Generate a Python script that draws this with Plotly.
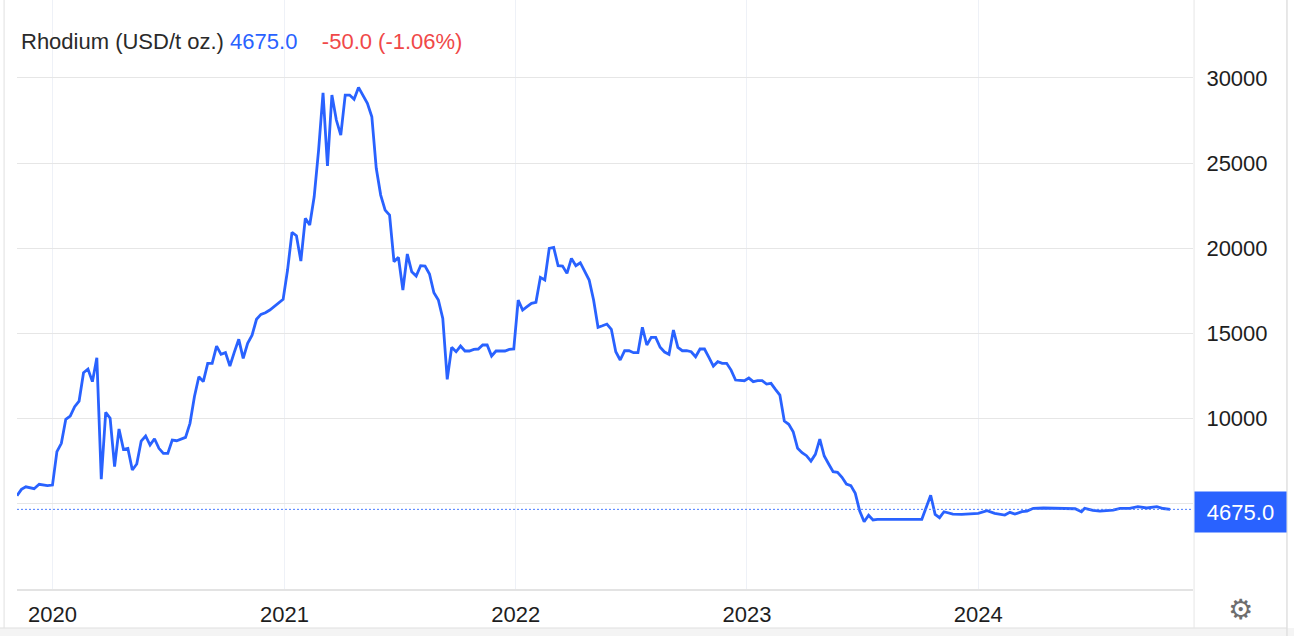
import plotly.graph_objects as go

# ---- data ----
dates = [
    "2019-11-06", "2019-11-13", "2019-11-20", "2019-12-03", "2019-12-11", "2019-12-24",
    "2020-01-01", "2020-01-08", "2020-01-15", "2020-01-22", "2020-01-29", "2020-02-05",
    "2020-02-12", "2020-02-19", "2020-02-26", "2020-03-04", "2020-03-11", "2020-03-18",
    "2020-03-25", "2020-04-01", "2020-04-08", "2020-04-15", "2020-04-22", "2020-04-29",
    "2020-05-06", "2020-05-13", "2020-05-20", "2020-05-27", "2020-06-03", "2020-06-10",
    "2020-06-17", "2020-06-24", "2020-07-01", "2020-07-08", "2020-07-15", "2020-07-22",
    "2020-07-29", "2020-08-05", "2020-08-12", "2020-08-19", "2020-08-26", "2020-09-02",
    "2020-09-09", "2020-09-16", "2020-09-23", "2020-09-30", "2020-10-07", "2020-10-14",
    "2020-10-21", "2020-10-28", "2020-11-04", "2020-11-11", "2020-11-18", "2020-11-25",
    "2020-12-02", "2020-12-09", "2020-12-16", "2020-12-23", "2020-12-30",
    "2021-01-06", "2021-01-13", "2021-01-20", "2021-01-27", "2021-02-03", "2021-02-10",
    "2021-02-17", "2021-02-24", "2021-03-03", "2021-03-10", "2021-03-17", "2021-03-24",
    "2021-03-31", "2021-04-07", "2021-04-14", "2021-04-21", "2021-04-28", "2021-05-05",
    "2021-05-12", "2021-05-19", "2021-05-26", "2021-06-02", "2021-06-09", "2021-06-16",
    "2021-06-23", "2021-06-30", "2021-07-07", "2021-07-14", "2021-07-21", "2021-07-28",
    "2021-08-04", "2021-08-11", "2021-08-18", "2021-08-25", "2021-09-01", "2021-09-08",
    "2021-09-15", "2021-09-22", "2021-09-29", "2021-10-06", "2021-10-13", "2021-10-20",
    "2021-10-27", "2021-11-03", "2021-11-10", "2021-11-17", "2021-11-24", "2021-12-01",
    "2021-12-08", "2021-12-15", "2021-12-22", "2021-12-29",
    "2022-01-05", "2022-01-12", "2022-01-19", "2022-01-26", "2022-02-02", "2022-02-09",
    "2022-02-16", "2022-02-23", "2022-03-02", "2022-03-09", "2022-03-16", "2022-03-23",
    "2022-03-30", "2022-04-06", "2022-04-13", "2022-04-20", "2022-04-27", "2022-05-04",
    "2022-05-11", "2022-05-18", "2022-05-25", "2022-06-01", "2022-06-08", "2022-06-15",
    "2022-06-22", "2022-06-29", "2022-07-06", "2022-07-13", "2022-07-20", "2022-07-27",
    "2022-08-03", "2022-08-10", "2022-08-17", "2022-08-24", "2022-08-31", "2022-09-07",
    "2022-09-14", "2022-09-21", "2022-09-28", "2022-10-05", "2022-10-12", "2022-10-19",
    "2022-10-26", "2022-11-02", "2022-11-09", "2022-11-16", "2022-11-23", "2022-11-30",
    "2022-12-07", "2022-12-14", "2022-12-21", "2022-12-28",
    "2023-01-04", "2023-01-11", "2023-01-18", "2023-01-25", "2023-02-01", "2023-02-08",
    "2023-02-15", "2023-02-22", "2023-03-01", "2023-03-08", "2023-03-15", "2023-03-22",
    "2023-03-29", "2023-04-05", "2023-04-12", "2023-04-19", "2023-04-26", "2023-05-03",
    "2023-05-10", "2023-05-17", "2023-05-24", "2023-05-31", "2023-06-07", "2023-06-14",
    "2023-06-21", "2023-06-28", "2023-07-05", "2023-07-12", "2023-07-19", "2023-07-26",
    "2023-10-04", "2023-10-18", "2023-10-25", "2023-11-01", "2023-11-08", "2023-11-15",
    "2023-11-22", "2023-12-06",
    "2024-01-01", "2024-01-15", "2024-01-27", "2024-02-12", "2024-02-20", "2024-02-28",
    "2024-03-10", "2024-03-18", "2024-03-28", "2024-04-13", "2024-05-09", "2024-06-02",
    "2024-06-12", "2024-06-17", "2024-06-30", "2024-07-11", "2024-08-01", "2024-08-12",
    "2024-08-27", "2024-09-09", "2024-09-23", "2024-10-09", "2024-10-19", "2024-10-30",
]

prices = [
    5475, 5850, 6000, 5885, 6145, 6065,
    6100, 8060, 8550, 9960, 10150, 10700,
    11030, 12690, 12910, 12170, 13570, 6440,
    10370, 10020, 7180, 9390, 8200, 8255,
    6985, 7335, 8685, 8980, 8450, 8820,
    8255, 7960, 7960, 8745, 8705, 8785,
    8900, 9725, 11285, 12460, 12170, 13245,
    13245, 14260, 13775, 13870, 13090, 13900,
    14655, 13540, 14420, 14900, 15830, 16120,
    16215, 16375, 16570, 16800, 17000,
    18720, 20930, 20735, 19250, 21755, 21360,
    23020, 25760, 29125, 24825, 28990, 27525,
    26645, 28990, 28990, 28740, 29440, 28990,
    28500, 27720, 24690, 23120, 22240, 21950,
    19210, 19465, 17550, 19660, 18620, 18370,
    18975, 18955, 18485, 17390, 16960, 15885,
    12305, 14185, 13925, 14260, 13970, 13970,
    14065, 14085, 14320, 14320, 13675, 13970,
    13970, 13970, 14065, 14085,
    16960, 16375, 16570, 16765, 16825, 18290,
    18135, 19995, 20050, 18975, 18955, 18525,
    19405, 18975, 19150, 18620, 18135, 16960,
    15360, 15450, 15550, 15240, 13925, 13440,
    13985, 13985, 13870, 13870, 15360, 14320,
    14770, 14770, 14185, 13910, 13775, 15200,
    14185, 13985, 13985, 13925, 13630, 14085,
    14085, 13595, 13085, 13340, 13245, 13245,
    12850, 12265, 12225, 12225,
    12380, 12170, 12225, 12225, 12030, 12070,
    11720, 11385, 9860, 9665, 9230, 8255,
    8000, 7825, 7510, 7905, 8800, 7805,
    7335, 6885, 6850, 6555, 6160, 6065,
    5615, 4575, 3950, 4325, 4050, 4090,
    4090, 5500, 4380, 4185, 4535, 4480,
    4400, 4380,
    4440, 4595, 4440, 4340, 4500, 4400,
    4535, 4575, 4735, 4755, 4735, 4710,
    4535, 4735, 4620, 4575, 4635, 4735,
    4735, 4830, 4755, 4830, 4725, 4675,
]

y_ticks = [5000, 10000, 15000, 20000, 25000, 30000]
# the 5000 label is hidden behind the last-value badge in the reference
y_tick_text = ["", "10000", "15000", "20000", "25000", "30000"]
x_ticks = ["2020-01-01", "2021-01-01", "2022-01-01", "2023-01-01", "2024-01-01"]
x_tick_text = ["2020", "2021", "2022", "2023", "2024"]

title_name = "Rhodium (USD/t oz.)"
last_value = "4675.0"
change_text = "-50.0 (-1.06%)"

BLUE = "#2962ff"
RED = "#f04848"
FONT = "Liberation Sans, Arial, Helvetica, sans-serif"
FS = 22

fig = go.Figure()
fig.add_trace(go.Scatter(
    x=dates, y=prices, mode="lines",
    line=dict(color=BLUE, width=2.8),
    hoverinfo="skip", showlegend=False,
))

fig.update_layout(
    width=1294, height=636,
    margin=dict(l=17, r=101, t=0, b=47),
    paper_bgcolor="white", plot_bgcolor="white",
    font=dict(family=FONT, size=FS, color="#1e1e1e"),
    showlegend=False,
    xaxis=dict(
        type="date",
        range=["2019-11-06", "2024-12-05"],
        tickvals=x_ticks, ticktext=x_tick_text,
        showgrid=True, gridcolor="#eef1f7", gridwidth=1,
        ticks="outside", ticklen=5, tickcolor="rgba(0,0,0,0)",
        tickfont=dict(size=FS, color="#1e1e1e"),
        showline=True, linecolor="#e3e3e3", linewidth=2,
        zeroline=False, fixedrange=True,
    ),
    yaxis=dict(
        side="right",
        range=[0, 34570],
        tickvals=y_ticks,
        ticktext=y_tick_text,
        showgrid=True, gridcolor="#e6e6e6", gridwidth=1,
        ticks="outside", ticklen=8, tickcolor="rgba(0,0,0,0)",
        tickfont=dict(size=FS, color="#1e1e1e"),
        showline=False, zeroline=False, fixedrange=True,
    ),
)

# last-value dotted line
fig.add_shape(type="line", xref="paper", yref="y", x0=0, x1=1, y0=prices[-1], y1=prices[-1],
              line=dict(color="#4a7dff", width=1, dash="2px,2px"))

# frame lines / panels
frame = "#e0e0e0"
fig.add_shape(type="rect", xref="paper", yref="paper", x0=-0.0145, x1=1.086, y0=-0.08, y1=-0.0662,
              fillcolor="#f4f4f4", line=dict(width=0), layer="below")
fig.add_shape(type="line", xref="paper", yref="paper", x0=-0.0145, x1=1.0799, y0=-0.0662, y1=-0.0662,
              line=dict(color=frame, width=1))
fig.add_shape(type="line", xref="paper", yref="paper", x0=-0.011, x1=-0.011, y0=-0.0662, y1=1,
              line=dict(color=frame, width=1))
fig.add_shape(type="line", xref="paper", yref="paper", x0=1.0799, x1=1.0799, y0=-0.08, y1=1,
              line=dict(color=frame, width=1.5))
fig.add_shape(type="line", xref="paper", yref="paper", x0=1.0009, x1=1.0009, y0=-0.0662, y1=1,
              line=dict(color="#e6e6e6", width=1))

# header text
fig.add_annotation(
    xref="paper", yref="paper", x=0.0017, y=0.930, xanchor="left", yanchor="middle",
    showarrow=False,
    text=(f"<span style='color:#2a2a2a'>{title_name}</span> "
          f"<span style='color:{BLUE}'>{last_value}</span>\u00a0\u00a0\u00a0\u00a0"
          f"<span style='color:{RED}'>{change_text}</span>"),
    font=dict(size=FS, family=FONT),
)

# last value badge
fig.add_annotation(
    xref="paper", yref="y", x=1.0404, y=prices[-1], xanchor="center", yanchor="middle",
    yshift=-3, showarrow=False, text=last_value,
    font=dict(size=FS, color="white", family=FONT),
    bgcolor=BLUE, width=85, height=34, borderpad=3,
)

# settings gear
fig.add_annotation(
    xref="paper", yref="paper", x=1.0408, y=-0.034, xanchor="center", yanchor="middle",
    showarrow=False, text="\u2699", font=dict(size=28, color="#6e6e6e", family="DejaVu Sans"),
)

fig.write_html("out.html", config={"displayModeBar": False},
               post_script="document.body.style.margin='0';document.body.style.overflow='hidden';")
